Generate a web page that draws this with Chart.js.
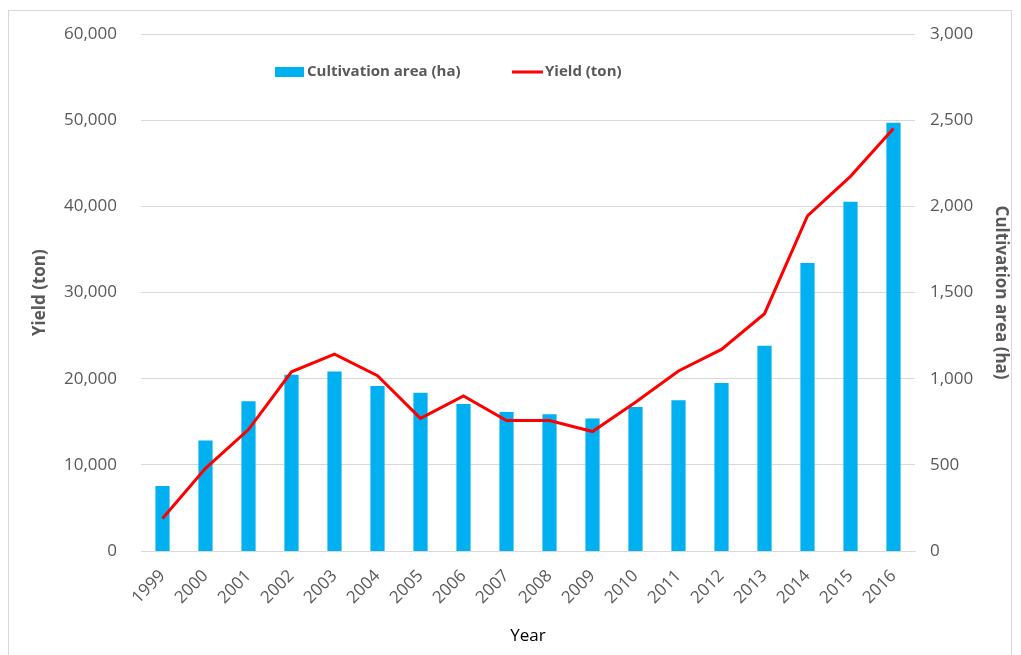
<!DOCTYPE html>
<html>
<head>
<meta charset="utf-8">
<script src="https://cdn.jsdelivr.net/npm/chart.js@4"></script>
<style>
  html, body { margin: 0; padding: 0; background: #fff; }
  #wrap { position: relative; width: 1021px; height: 655px; }
  #frame { position: absolute; left: 8px; top: 10px; width: 1004px; height: 650px; border: 1px solid #d9d9d9; box-sizing: border-box; pointer-events: none; }
</style>
</head>
<body>
<div id="wrap">
  <canvas id="chart" width="1021" height="655"></canvas>
  <div id="frame"></div>
</div>
<script>
var years = ['1999','2000','2001','2002','2003','2004','2005','2006','2007','2008',
             '2009','2010','2011','2012','2013','2014','2015','2016'];
var area_list = [377, 642, 869, 1023, 1042, 958, 919, 854, 807, 794,
                 769, 836, 875, 975, 1191, 1672, 2027, 2486];
var yield_list = [3780, 9600, 14100, 20800, 22860, 20350, 15400, 18000, 15140, 15140,
                  13870, 17260, 20900, 23400, 27550, 38900, 43500, 49050];

var grey = '#595959';
var font = "'Open Sans', 'Liberation Sans', sans-serif";

// legend drawn inside the plot like the original
var insideLegend = {
    id: 'insideLegend',
    afterDraw: function(chart) {
        var ctx = chart.ctx;
        var ds = chart.data.datasets;
        ctx.save();
        ctx.font = 'bold 15px ' + font;
        ctx.textBaseline = 'middle';
        var y = 72;
        // bar item
        ctx.fillStyle = ds[0].backgroundColor;
        ctx.fillRect(275, y - 5, 29, 10);
        ctx.fillStyle = grey;
        ctx.fillText(ds[0].label, 307, y);
        // line item
        ctx.strokeStyle = ds[1].borderColor;
        ctx.lineWidth = 3;
        ctx.beginPath();
        ctx.moveTo(512, y);
        ctx.lineTo(543, y);
        ctx.stroke();
        ctx.fillText(ds[1].label, 545, y);
        ctx.restore();
    }
};

new Chart(document.getElementById('chart'), {
    type: 'bar',
    data: {
        labels: years,
        datasets: [{
            type: 'bar',
            label: 'Cultivation area (ha)',
            data: area_list,
            yAxisID: 'y1',
            backgroundColor: '#00B0F0',
            barPercentage: 0.33,
            categoryPercentage: 1,
            order: 1
        }, {
            type: 'line',
            label: 'Yield (ton)',
            data: yield_list,
            yAxisID: 'y',
            borderColor: '#FF0000',
            backgroundColor: '#FF0000',
            borderWidth: 3,
            pointRadius: 0,
            fill: false,
            order: 0
        }]
    },
    plugins: [insideLegend],
    options: {
        responsive: false,
        animation: false,
        layout: { padding: { left: 10, right: 6, top: 22, bottom: 9 } },
        plugins: {
            legend: { display: false },
            tooltip: { enabled: false }
        },
        scales: {
            x: {
                grid: { display: false },
                border: { display: true, color: '#d9d9d9' },
                ticks: { color: grey, font: { size: 17, family: font }, maxRotation: 45, minRotation: 45, padding: 7 },
                title: { display: true, text: 'Year', color: '#000', font: { size: 17, family: font }, padding: { top: 0, bottom: 0 } },
                afterFit: function(s) { s.height = 95; }
            },
            y: {
                position: 'left',
                min: 0, max: 60000,
                ticks: {
                    stepSize: 10000, color: grey, padding: 24,
                    font: { size: 17, family: font },
                    callback: function(v) { return v.toLocaleString('en-US'); }
                },
                grid: { color: '#d9d9d9', drawTicks: false },
                border: { display: false },
                title: { display: true, text: 'Yield (ton)', color: grey, font: { size: 17, weight: 'bold', family: font }, padding: { top: 20, bottom: 0 } },
                afterFit: function(s) { s.width = 131; }
            },
            y1: {
                position: 'right',
                min: 0, max: 3000,
                ticks: {
                    stepSize: 500, color: grey, padding: 15,
                    font: { size: 17, family: font },
                    callback: function(v) { return v.toLocaleString('en-US'); }
                },
                grid: { display: false, drawTicks: false },
                border: { display: false },
                title: { display: true, text: 'Cultivation area (ha)', color: grey, font: { size: 17, weight: 'bold', family: font }, padding: { top: 4, bottom: 0 } },
                afterFit: function(s) { s.width = 100; }
            }
        }
    }
});
</script>
</body>
</html>
